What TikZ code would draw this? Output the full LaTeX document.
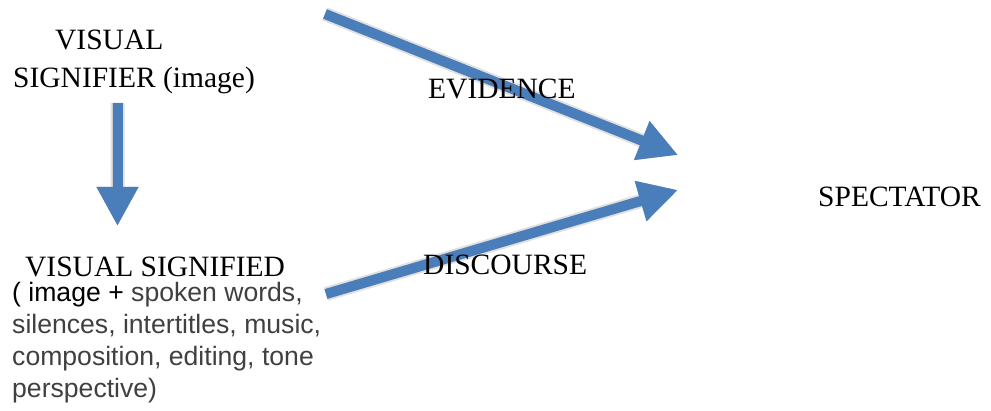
\documentclass[tikz,border=0pt]{standalone}
\usepackage{fontspec}
\setmainfont{Liberation Serif}
\newfontfamily\sansfont{Liberation Sans}
\usetikzlibrary{arrows.meta}
\definecolor{arrowblue}{HTML}{4A7EBB}
\definecolor{greytext}{HTML}{404040}
\begin{document}
\begin{tikzpicture}[x=1pt,y=-1pt,
  serif/.style={inner sep=0pt, anchor=base west, font=\fontsize{29.5}{36}\selectfont},
  sanstext/.style={inner sep=0pt, anchor=base west, font=\sansfont\fontsize{26.6}{32}\selectfont, text=greytext},
  bigarrow/.style={line width=10pt, draw=arrowblue, -{Triangle[length=39pt,width=39pt]}},
  shadowarrow/.style={line width=#1, draw=black, -{Triangle[length=39pt,width=39pt]}}]
\useasboundingbox (0,0) rectangle (991,411);
% arrow end points
\coordinate (vtail) at (117.5,103);
\coordinate (vtip) at (117.5,226);
\coordinate (etail) at (325,14);
\coordinate (etip) at (678,155);
\coordinate (dtail) at (326,294);
\coordinate (dtip) at (678,190);
% soft shadows
\begin{scope}[transparency group, opacity=0.12, shift={(4,6)}]
  \draw[shadowarrow=14pt] (vtail) -- (vtip);
  \draw[shadowarrow=14pt] (etail) -- (etip);
  \draw[shadowarrow=14pt] (dtail) -- (dtip);
\end{scope}
\begin{scope}[transparency group, opacity=0.25, shift={(2.5,4)}]
  \draw[shadowarrow=10pt] (vtail) -- (vtip);
  \draw[shadowarrow=10pt] (etail) -- (etip);
  \draw[shadowarrow=10pt] (dtail) -- (dtip);
\end{scope}
% arrows
\draw[bigarrow] (vtail) -- (vtip);
\draw[bigarrow] (etail) -- (etip);
\draw[bigarrow] (dtail) -- (dtip);
% texts
\node[serif] (sig1) at (55,50) {VISUAL};
\node[serif] (sig2) at (13,88) {SIGNIFIER (image)};
\node[serif] (sd) at (25,277) {VISUAL SIGNIFIED};
\node[sanstext] (l1) at (12,302) {{\color{black}( image +} spoken words,};
\node[sanstext] (l2) at (12,334) {silences, intertitles, music,};
\node[sanstext] (l3) at (12,366) {composition, editing, tone};
\node[sanstext] (l4) at (12,398) {perspective)};
\node[serif] (ev) at (428,99) {EVIDENCE};
\node[serif] (disc) at (423,275) {DISCOURSE};
\node[serif] (spec) at (818,207) {SPECTATOR};
\end{tikzpicture}
\end{document}
